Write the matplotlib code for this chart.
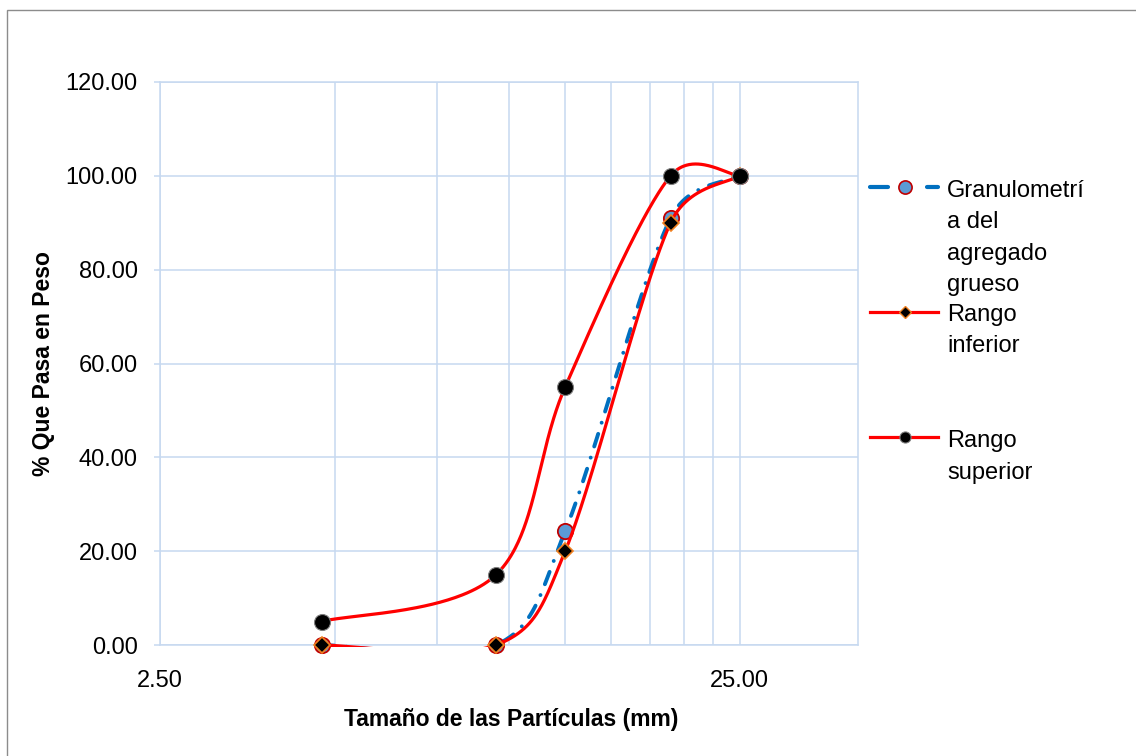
import numpy as np
import matplotlib
matplotlib.use("Agg")
import matplotlib.pyplot as plt
from matplotlib.lines import Line2D
from matplotlib.patches import Rectangle
from matplotlib.ticker import FixedLocator, FuncFormatter, NullFormatter

plt.rcParams['font.family'] = ['Liberation Sans', 'DejaVu Sans']

# ---------------- data ----------------
tamices = [4.75, 9.5, 12.5, 19.0, 25.0]
granulometria = [0.0, 0.0, 24.3, 91.0, 100.0]
rango_inferior = [0.0, 0.0, 20.0, 90.0, 100.0]
rango_superior = [5.0, 15.0, 55.0, 100.0, 100.0]
series_labels = ["Granulometrí\na del\nagregado\ngrueso", "Rango\ninferior", "Rango\nsuperior"]
x_major = [2.5, 25.0]
x_major_labels = ["2.50", "25.00"]
y_ticks = [0, 20, 40, 60, 80, 100, 120]
x_label = "Tamaño de las Partículas (mm)"
y_label = "% Que Pasa en Peso"

W, H = 1136, 756
fig = plt.figure(figsize=(W / 100, H / 100), dpi=100)
L, R, T, B = 160, 858, 82, 645
ax = fig.add_axes([L / W, 1 - B / H, (R - L) / W, (B - T) / H])

grid_c = '#C6D9F0'
ax.set_xscale('log')
ax.set_xlim(2.5, 40)
ax.set_ylim(0, 120)

ax.xaxis.set_major_locator(FixedLocator(x_major))
ax.xaxis.set_major_formatter(FuncFormatter(lambda v, p: x_major_labels[x_major.index(v)] if v in x_major else ""))
ax.xaxis.set_minor_locator(FixedLocator([2.5 * k for k in range(2, 10)]))
ax.xaxis.set_minor_formatter(NullFormatter())
ax.set_yticks(y_ticks)
ax.yaxis.set_major_formatter(FuncFormatter(lambda v, p: f"{v:.2f}"))

ax.grid(True, which='major', color=grid_c, lw=1.1)
ax.grid(True, which='minor', axis='x', color=grid_c, lw=1.1)
ax.set_axisbelow(True)
for s in ax.spines.values():
    s.set_color(grid_c)
    s.set_linewidth(1.1)
ax.tick_params(axis='x', which='both', length=0, pad=18, labelsize=17)
ax.tick_params(axis='y', length=4, color=grid_c, width=1.1, pad=12, labelsize=17)

ax.set_xlabel(x_label, fontsize=16.5, fontweight='bold', va='center')
ax.xaxis.set_label_coords(0.503, -0.1332)
ax.set_ylabel(y_label, fontsize=16.5, fontweight='bold', va='center')
ax.yaxis.set_label_coords(-0.1676, 0.5)


def smooth(xs, ys, n=80, t=1.0 / 6):
    pts = ax.transData.transform(np.column_stack([xs, ys]))
    out = []
    m = len(pts)
    for i in range(m - 1):
        p0 = pts[i - 1] if i > 0 else pts[i]
        p1 = pts[i]
        p2 = pts[i + 1]
        p3 = pts[i + 2] if i + 2 < m else pts[i + 1]
        half = np.hypot(*(p2 - p1)) / 2
        d1 = (p2 - p0) * t
        d2 = (p3 - p1) * t
        for d in (d1, d2):
            ln = np.hypot(*d)
            if ln > half and ln > 0:
                d *= half / ln
        c1 = p1 + d1
        c2 = p2 - d2
        s = np.linspace(0, 1, n)[:, None]
        seg = ((1 - s) ** 3) * p1 + 3 * ((1 - s) ** 2) * s * c1 + 3 * (1 - s) * s ** 2 * c2 + s ** 3 * p2
        out.append(seg if i == 0 else seg[1:])
    curve = ax.transData.inverted().transform(np.vstack(out))
    return curve[:, 0], curve[:, 1]


clip_rect = Rectangle((0, -0.0028), 1, 1.0056, transform=ax.transAxes, visible=False)
ax.add_artist(clip_rect)

blue = '#0070C0'
red = '#FF0000'

# Granulometria
sx, sy = smooth(tamices, granulometria)
ln, = ax.plot(sx, sy, color=blue, lw=2.8, linestyle=(0, (3.4, 3.0, 0.01, 3.0)),
              dash_capstyle='round', zorder=3)
ln.set_clip_path(clip_rect)
ax.plot(tamices, granulometria, linestyle='none', marker='o', ms=11,
        mfc='#5B9BD5', mec='#C00000', mew=1.3, zorder=4, clip_on=False)

# Rango inferior
sx, sy = smooth(tamices, rango_inferior)
ln, = ax.plot(sx, sy, color=red, lw=2.3, zorder=5, solid_capstyle='round')
ln.set_clip_path(clip_rect)
ax.plot(tamices, rango_inferior, linestyle='none', marker='D', ms=8,
        mfc='black', mec='#F08020', mew=1.2, zorder=6, clip_on=False)

# Rango superior
sx, sy = smooth(tamices, rango_superior)
ln, = ax.plot(sx, sy, color=red, lw=2.3, zorder=7, solid_capstyle='round')
ln.set_clip_path(clip_rect)
ax.plot(tamices, rango_superior, linestyle='none', marker='o', ms=11.5,
        mfc='black', mec='#7F7F7F', mew=0.8, zorder=8, clip_on=False)

# ---------------- legend (manual layout) ----------------
def fx(px):
    return px / W


def fy(py):
    return 1 - py / H


# blue handle
fig.add_artist(Line2D([fx(870), fx(888)], [fy(187), fy(187)], color=blue, lw=3, solid_capstyle='round'))
fig.add_artist(Line2D([fx(927), fx(938)], [fy(187), fy(187)], color=blue, lw=3, solid_capstyle='round'))
fig.add_artist(Line2D([fx(905)], [fy(187)], marker='o', ms=9.5, mfc='#5B9BD5', mec='#C00000', mew=1.2))
# inferior handle
fig.add_artist(Line2D([fx(870), fx(938)], [fy(312), fy(312)], color=red, lw=2.3))
fig.add_artist(Line2D([fx(905)], [fy(312)], marker='D', ms=6.5, mfc='black', mec='#F08020', mew=1.0))
# superior handle
fig.add_artist(Line2D([fx(870), fx(938)], [fy(437), fy(437)], color=red, lw=2.3))
fig.add_artist(Line2D([fx(905)], [fy(437)], marker='o', ms=8, mfc='black', mec='#7F7F7F', mew=0.8))

baselines = [[197, 228.5, 260, 291.5], [321, 352.5], [447, 478.5]]
for lab, bl in zip(series_labels, baselines):
    for line, b in zip(lab.split("\n"), bl):
        fig.text(fx(947), fy(b), line, fontsize=17, va='baseline', ha='left')

# outer chart border
fig.add_artist(Rectangle((fx(7), -0.1), 1.2, fy(10) + 0.1, transform=fig.transFigure,
                         fill=False, edgecolor='#8C8C8C', lw=1.0))

fig.savefig("out.png", dpi=100)
